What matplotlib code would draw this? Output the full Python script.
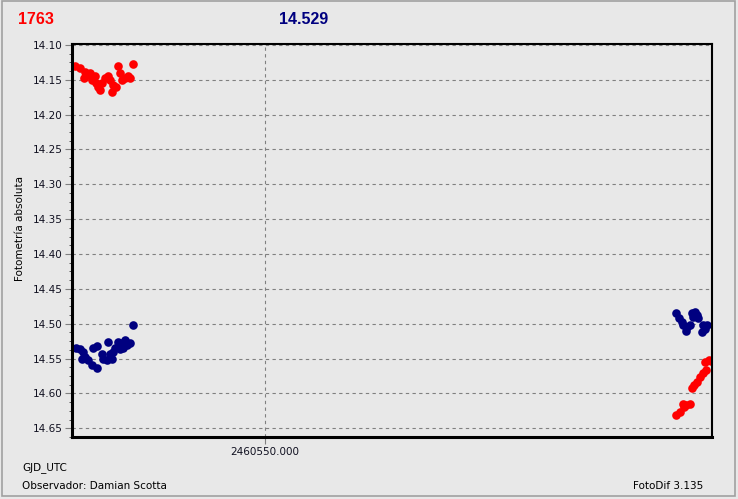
import matplotlib
matplotlib.use("Agg")
from matplotlib import pyplot as plt
from matplotlib.ticker import FixedLocator, AutoMinorLocator, FormatStrFormatter
from matplotlib.patches import Rectangle

# Julian dates (GJD_UTC) and magnitudes
red_jd_a = [2460549.5078, 2460549.5207, 2460549.5337, 2460549.5415, 2460549.5311,
            2460549.5518, 2460549.5622, 2460549.5674, 2460549.5725, 2460549.5777,
            2460549.5855, 2460549.5933, 2460549.5984, 2460549.6062, 2460549.6036,
            2460549.6140, 2460549.6192, 2460549.6244, 2460549.6295, 2460549.6373,
            2460549.6451, 2460549.6503, 2460549.6580, 2460549.5466, 2460549.5596]
red_mag_a = [14.130, 14.133, 14.139, 14.143, 14.147,
             14.150, 14.154, 14.161, 14.164, 14.154,
             14.147, 14.144, 14.150, 14.157, 14.167,
             14.161, 14.130, 14.141, 14.150, 14.147,
             14.144, 14.147, 14.127, 14.140, 14.144]

red_jd_b = [2460551.0648, 2460551.0751, 2460551.0829, 2460551.0907, 2460551.1010,
            2460551.0855, 2460551.1062, 2460551.1114, 2460551.1192, 2460551.1269,
            2460551.1347, 2460551.1425, 2460551.1399, 2460551.1503, 2460551.1554]
red_mag_b = [14.631, 14.626, 14.615, 14.617, 14.615,
             14.620, 14.592, 14.588, 14.584, 14.577,
             14.571, 14.567, 14.555, 14.552, 14.553]

blue_jd_a = [2460549.6580, 2460549.5112, 2460549.5207, 2460549.5285, 2460549.5251,
             2460549.5337, 2460549.5415, 2460549.5510, 2460549.5640, 2460549.5544,
             2460549.5640, 2460549.5769, 2460549.5803, 2460549.5899, 2460549.5933,
             2460549.5984, 2460549.6062, 2460549.6028, 2460549.6114, 2460549.6192,
             2460549.6287, 2460549.6373, 2460549.6417, 2460549.6503, 2460549.6321,
             2460549.6244]
blue_mag_a = [14.502, 14.535, 14.536, 14.541, 14.550,
              14.548, 14.552, 14.559, 14.564, 14.535,
              14.532, 14.543, 14.550, 14.552, 14.526,
              14.543, 14.541, 14.550, 14.535, 14.526,
              14.528, 14.523, 14.530, 14.528, 14.535,
              14.536]

blue_jd_b = [2460551.0648, 2460551.0734, 2460551.0795, 2460551.0837, 2460551.0925,
             2460551.0907, 2460551.1010, 2460551.1054, 2460551.1140, 2460551.1184,
             2460551.1097, 2460551.1227, 2460551.1356, 2460551.1443, 2460551.1313,
             2460551.1399]
blue_mag_b = [14.484, 14.492, 14.497, 14.502, 14.504,
              14.510, 14.502, 14.485, 14.483, 14.488,
              14.490, 14.492, 14.502, 14.502, 14.512,
              14.507]

x_ticks = [2460550.0]
y_min, y_max = 14.098, 14.6625

RED = "#ff0000"
NAVY = "#000080"
BG = "#e8e8e8"

fig = plt.figure(figsize=(7.38, 4.99), dpi=100, facecolor=BG)
ax = fig.add_axes([72 / 738, 62 / 499, 640 / 738, 393.5 / 499], facecolor=BG)

for xs, ys, c in [(red_jd_a, red_mag_a, RED), (red_jd_b, red_mag_b, RED),
                  (blue_jd_a, blue_mag_a, NAVY), (blue_jd_b, blue_mag_b, NAVY)]:
    ax.plot(xs, ys, "o", color=c, markersize=6.2, markeredgewidth=0)

ax.set_xlim(2460549.5, 2460549.5 + 640 / 386)
ax.set_ylim(y_max, y_min)

ax.xaxis.set_major_locator(FixedLocator(x_ticks))
ax.xaxis.set_major_formatter(FormatStrFormatter("%.3f"))
ax.yaxis.set_major_locator(FixedLocator([14.10 + 0.05 * i for i in range(12)]))
ax.yaxis.set_major_formatter(FormatStrFormatter("%.2f"))
ax.yaxis.set_minor_locator(AutoMinorLocator(4))

ax.grid(True, which="major", color="#808080", linestyle=(0, (3, 3)), linewidth=0.8)
ax.tick_params(axis="both", which="major", length=5, color="#808080",
               labelsize=7.5, labelcolor="#101020", pad=2)
ax.tick_params(axis="y", which="minor", length=2, direction="out", color="#404040")

for side in ["left", "bottom"]:
    ax.spines[side].set_linewidth(2.2)
for side in ["top", "right"]:
    ax.spines[side].set_linewidth(1.5)

ax.set_ylabel("Fotometría absoluta", fontsize=7.5)
ax.yaxis.set_label_coords(-0.074, 0.53)

fig.text(18 / 738, 1 - 19 / 499, "1763", color=RED, fontsize=11.5, weight="bold",
         family="Liberation Sans", va="center", ha="left")
fig.text(279 / 738, 1 - 19 / 499, "14.529", color=NAVY, fontsize=11.5, weight="bold",
         family="Liberation Sans", va="center", ha="left")
fig.text(22 / 738, 1 - 468 / 499, "GJD_UTC", fontsize=7.5, va="center", ha="left")
fig.text(22 / 738, 1 - 486 / 499, "Observador: Damian Scotta", fontsize=7.5,
         va="center", ha="left")
fig.text(703 / 738, 1 - 486 / 499, "FotoDif 3.135", fontsize=7.5, va="center", ha="right")

fig.patches.append(Rectangle((2 / 738, 3 / 499), 733 / 738, 495 / 499,
                             transform=fig.transFigure, fill=False,
                             edgecolor="#a0a0a0", linewidth=1.2))

fig.savefig("out.png", dpi=100, facecolor=BG)
